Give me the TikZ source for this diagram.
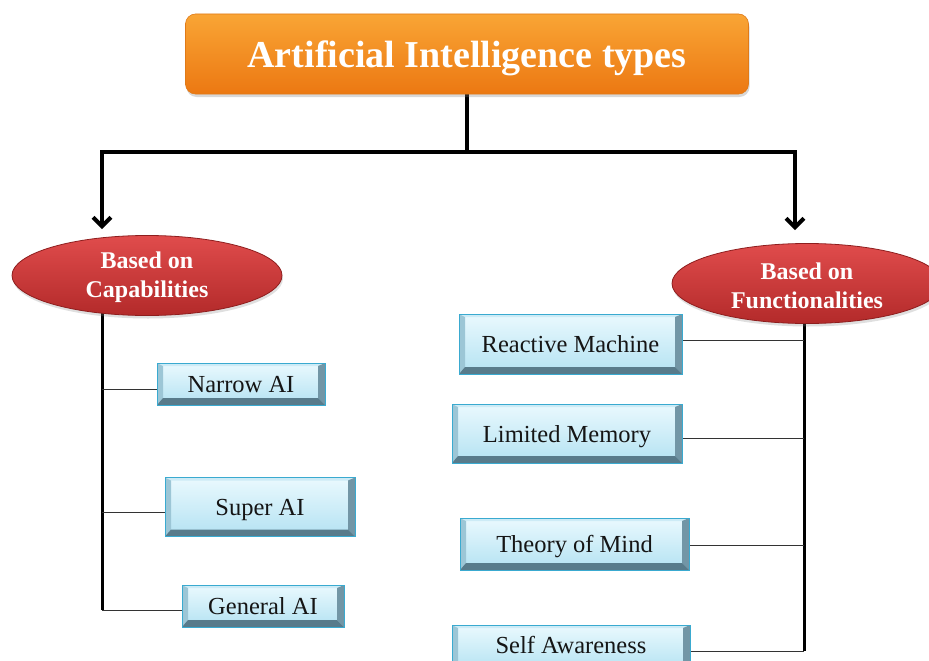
\documentclass[tikz,border=0pt]{standalone}
\usepackage{fontspec}
\setmainfont{Liberation Serif}
\usetikzlibrary{arrows.meta,shadows,calc,shapes.geometric}
\pgfdeclarelayer{canvas}
\pgfdeclarelayer{bg}
\pgfsetlayers{canvas,bg,main}
\definecolor{orTop}{HTML}{F9A535}
\definecolor{orBot}{HTML}{EC7812}
\definecolor{orLine}{HTML}{E07A18}
\definecolor{rdTop}{HTML}{E04C4C}
\definecolor{rdBot}{HTML}{B32A2A}
\definecolor{rdLine}{HTML}{8E1E1E}
\definecolor{bxTop}{HTML}{EAF9FE}
\definecolor{bxBot}{HTML}{B3E2F2}
\definecolor{bxLine}{HTML}{3AAAD0}
\definecolor{bvLeft}{HTML}{9CC6D6}
\definecolor{bvTop}{HTML}{CDEBF6}
\definecolor{bvRight}{HTML}{7296A6}
\definecolor{bvBot}{HTML}{587B8B}
\definecolor{txt}{HTML}{151515}
\begin{document}
\begin{tikzpicture}[x=1pt,y=-1pt,
  titlebox/.style={rectangle, rounded corners=10pt, minimum width=563pt, minimum height=80pt,
    top color=orTop, bottom color=orBot, draw=orLine, line width=0.6pt, text=white,
    font=\fontsize{38}{40}\selectfont\bfseries, text height=36pt, text depth=8pt,
    drop shadow={opacity=0.3, shadow xshift=1pt, shadow yshift=-3pt}},
  catnode/.style={ellipse, minimum width=270pt, minimum height=80pt, inner sep=0pt,
    top color=rdTop, bottom color=rdBot, draw=rdLine, line width=0.8pt, text=white,
    font=\fontsize{24}{29}\selectfont\bfseries, align=center,
    drop shadow={opacity=0.25, shadow xshift=1pt, shadow yshift=-3pt}},
  bevbox/.style={rectangle, inner sep=0pt, top color=bxTop, bottom color=bxBot,
    draw=bxLine, line width=0.8pt, text=txt, font=\fontsize{24.5}{26}\selectfont,
    text height=22pt, text depth=5pt,
    path picture={
      \coordinate (pSW) at (path picture bounding box.south west);
      \coordinate (pSE) at (path picture bounding box.south east);
      \coordinate (pNW) at (path picture bounding box.north west);
      \coordinate (pNE) at (path picture bounding box.north east);
      \fill[bvTop] (pNW) -- (pNE) -- ($(pNE)+(-7pt,-3pt)$) -- ($(pNW)+(6pt,-3pt)$) -- cycle;
      \fill[bvLeft] (pSW) -- (pNW) -- ($(pNW)+(6pt,-3pt)$) -- ($(pSW)+(6pt,7pt)$) -- cycle;
      \fill[bvRight] (pSE) -- (pNE) -- ($(pNE)+(-7pt,-3pt)$) -- ($(pSE)+(-7pt,7pt)$) -- cycle;
      \fill[bvBot] (pSW) -- (pSE) -- ($(pSE)+(-7pt,7pt)$) -- ($(pSW)+(6pt,7pt)$) -- cycle;
    }},
  mainline/.style={line width=4pt, black},
  trunk/.style={line width=3pt, black},
  branch/.style={line width=1pt, black!80}
]
\useasboundingbox (0,0) rectangle (929,661);
\begin{pgfonlayer}{canvas}
  \fill[white] (0,0) rectangle (929,661);
\end{pgfonlayer}

\node[titlebox] (title) at (467,54) {Artificial Intelligence types};

\node[catnode] (capab) at (147,275.5) {\rule{0pt}{21pt}Based on\\Capabilities};
\node[catnode] (funct) at (807,283.5) {\rule{0pt}{21pt}Based on\\Functionalities};

\node[bevbox, minimum width=168pt, minimum height=42pt] (nar) at (241,384) {Narrow AI};
\node[bevbox, minimum width=190pt, minimum height=59pt] (sup) at (260,507) {Super AI};
\node[bevbox, minimum width=162pt, minimum height=42pt] (gen) at (263,606) {General AI};

\node[bevbox, minimum width=223pt, minimum height=60pt] (rea) at (570.5,344) {Reactive Machine};
\node[bevbox, minimum width=230pt, minimum height=59pt] (lim) at (567,433.5) {Limited Memory};
\node[bevbox, minimum width=229pt, minimum height=52pt] (tom) at (574.5,544) {Theory of Mind};
\node[bevbox, minimum width=238pt, minimum height=46pt, text height=16pt] (sel) at (571,648) {Self Awareness};

\coordinate (lc) at (102,152);
\coordinate (rc) at (795,152);
\coordinate (lb) at (102,610);
\coordinate (rb) at (804,651);
\coordinate (l1) at (102,389);
\coordinate (l2) at (102,512);
\coordinate (r1) at (804,340);
\coordinate (r2) at (804,438);
\coordinate (r3) at (804,545);

\begin{pgfonlayer}{bg}
  \draw[mainline, -{Straight Barb[length=9pt,width=18pt]}, shorten >=6pt]
    (title.south) |- (lc) -- (lc |- capab.north);
  \draw[mainline, -{Straight Barb[length=9pt,width=18pt]}, shorten >=13pt]
    (title.south) |- (rc) -- (rc |- funct.north);
  \draw[trunk] (capab -| lb) -- (lb);
  \draw[trunk] (funct -| rb) -- (rb);
  \draw[branch] (l1) -- (l1 -| nar.west);
  \draw[branch] (l2) -- (l2 -| sup.west);
  \draw[branch] (lb) -- (lb -| gen.west);
  \draw[branch] (r1) -- (r1 -| rea.east);
  \draw[branch] (r2) -- (r2 -| lim.east);
  \draw[branch] (r3) -- (r3 -| tom.east);
  \draw[branch] (rb) -- (rb -| sel.east);
\end{pgfonlayer}
\end{tikzpicture}
\end{document}
